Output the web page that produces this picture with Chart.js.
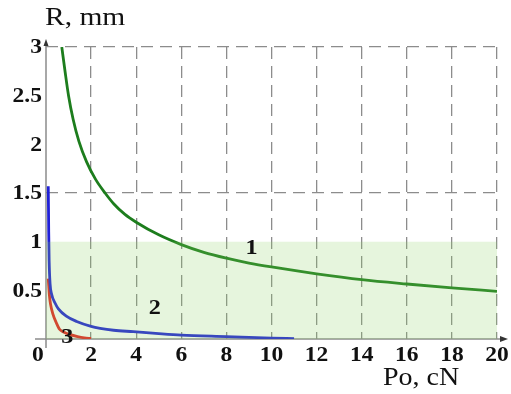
<!DOCTYPE html>
<html>
<head>
<meta charset="utf-8">
<script src="https://cdn.jsdelivr.net/npm/chart.js@4/dist/chart.umd.min.js"></script>
<style>
html,body{margin:0;padding:0;background:#fff;}
#wrap{width:511px;height:394px;position:relative;}
</style>
</head>
<body>
<div id="wrap"><canvas id="c" width="511" height="394"></canvas></div>
<script>
// Data
const curve1X = [0.7, 0.85, 1.0, 1.2, 1.46, 1.8, 2.2, 2.62, 3.0, 3.5, 4.0, 5.0, 6.0, 7.0, 8.0, 9.0, 10.0, 12.0, 14.0, 16.0, 18.0, 20.0];
const curve1Y = [3.0, 2.74, 2.5, 2.26, 2.03, 1.82, 1.64, 1.5, 1.39, 1.28, 1.2, 1.07, 0.97, 0.89, 0.83, 0.78, 0.74, 0.67, 0.61, 0.565, 0.525, 0.49];
const curve2X = [0.1, 0.11, 0.12, 0.14, 0.18, 0.25, 0.4, 0.55, 0.9, 1.36, 2.0, 2.4, 3.0, 3.87, 5.0, 6.0, 8.0, 10.0, 11.0];
const curve2Y = [1.57, 1.35, 1.1, 0.8, 0.57, 0.46, 0.37, 0.31, 0.235, 0.18, 0.13, 0.11, 0.09, 0.075, 0.055, 0.04, 0.025, 0.01, 0.004];
const curve3X = [0.1, 0.12, 0.15, 0.2, 0.3, 0.45, 0.6, 0.8, 1.0, 1.4, 1.7, 2.0];
const curve3Y = [0.62, 0.55, 0.45, 0.36, 0.26, 0.17, 0.1, 0.07, 0.05, 0.025, 0.012, 0.005];
const zoneX = [0, 20];
const zoneY = [1, 1];
const xTickValues = [0, 2, 4, 6, 8, 10, 12, 14, 16, 18, 20];
const yTickValues = [0.5, 1, 1.5, 2, 2.5, 3];
const curveLabels = ["1", "2", "3"];
const labelX = [9.12, 4.83, 0.95];
const labelY = [0.93, 0.32, 0.02];
const xTitle = "Po, cN";
const yTitle = "R, mm";

const pts = (xs, ys) => xs.map((x, i) => ({x: x, y: ys[i]}));
const SERIF = '"Liberation Serif", "Times New Roman", serif';

function stretchText(ctx, t, x, y, sx) {
  ctx.save();
  ctx.translate(x, y);
  ctx.scale(sx, 1);
  ctx.fillText(t, 0, 0);
  ctx.restore();
}

const overlay = {
  id: 'overlay',
  beforeDatasetsDraw(chart) {
    const ctx = chart.ctx;
    const xs = chart.scales.x, ys = chart.scales.y;
    const x0 = xs.getPixelForValue(0), y0 = ys.getPixelForValue(0);
    const yTop = ys.getPixelForValue(3), xRight = xs.getPixelForValue(20);
    ctx.save();
    ctx.strokeStyle = '#8c8c8c';
    ctx.lineWidth = 1.5;
    ctx.beginPath();
    ctx.moveTo(x0 - 11, y0); ctx.lineTo(xRight + 8, y0);
    ctx.moveTo(x0, y0 + 9); ctx.lineTo(x0, yTop - 5);
    ctx.stroke();
    ctx.fillStyle = '#333';
    ctx.beginPath();
    ctx.moveTo(xRight + 11, y0); ctx.lineTo(xRight + 3, y0 - 3); ctx.lineTo(xRight + 3, y0 + 3); ctx.closePath(); ctx.fill();
    ctx.beginPath();
    ctx.moveTo(x0, yTop - 8); ctx.lineTo(x0 - 2.5, yTop - 1); ctx.lineTo(x0 + 2.5, yTop - 1); ctx.closePath(); ctx.fill();
    ctx.restore();
  },
  afterDatasetsDraw(chart) {
    const ctx = chart.ctx;
    const xs = chart.scales.x, ys = chart.scales.y;
    ctx.save();
    ctx.fillStyle = '#111';
    ctx.textBaseline = 'middle';
    // tick labels
    ctx.font = 'bold 21px ' + SERIF;
    ctx.textAlign = 'center';
    xTickValues.forEach(v => {
      let px = xs.getPixelForValue(v);
      if (v === 0) px -= 8;
      stretchText(ctx, String(v), px, ys.getPixelForValue(0) + 17, 1.12);
    });
    ctx.textAlign = 'right';
    yTickValues.forEach(v => {
      stretchText(ctx, String(v), xs.getPixelForValue(0) - 4, ys.getPixelForValue(v) + 1, 1.12);
    });
    // curve labels
    ctx.textAlign = 'center';
    ctx.font = 'bold 22px ' + SERIF;
    curveLabels.forEach((t, i) => {
      stretchText(ctx, t, xs.getPixelForValue(labelX[i]), ys.getPixelForValue(labelY[i]), 1.1);
    });
    // titles
    ctx.textAlign = 'left';
    ctx.textBaseline = 'alphabetic';
    ctx.font = '25px ' + SERIF;
    stretchText(ctx, yTitle, 45, 25, 1.18);
    stretchText(ctx, xTitle, 383, 385, 1.12);
    ctx.restore();
  }
};

new Chart(document.getElementById('c'), {
  type: 'line',
  data: {
    datasets: [
      {data: pts(zoneX, zoneY), borderWidth: 0, pointRadius: 0, fill: 'origin', backgroundColor: 'rgba(140,210,100,0.22)', borderColor: 'rgba(0,0,0,0)'},
      {data: pts(curve1X, curve1Y), borderColor: '#1d7d1d', borderWidth: 2.8, pointRadius: 0, cubicInterpolationMode: 'monotone', fill: false},
      {data: pts(curve2X, curve2Y), borderColor: '#2020d8', borderWidth: 2.8, pointRadius: 0, cubicInterpolationMode: 'monotone', fill: false},
      {data: pts(curve3X, curve3Y), borderColor: '#e52222', borderWidth: 2.8, pointRadius: 0, cubicInterpolationMode: 'monotone', fill: false}
    ]
  },
  options: {
    responsive: false,
    animation: false,
    layout: {padding: {top: 47, right: 14, left: 0, bottom: 0}},
    plugins: {legend: {display: false}, tooltip: {enabled: false}},
    scales: {
      x: {
        type: 'linear', min: 0, max: 20,
        afterFit(s) { s.height = 55; },
        border: {display: false, dash: [12, 7]},
        grid: {drawTicks: false, lineWidth: 1.3, color: (c) => (c.tick && c.tick.value === 0) ? 'rgba(0,0,0,0)' : '#8c8c8c'},
        ticks: {stepSize: 2, display: false}
      },
      y: {
        type: 'linear', min: 0, max: 3,
        afterFit(s) { s.width = 46; },
        border: {display: false, dash: [12, 7]},
        grid: {drawTicks: false, lineWidth: 1.3, color: (c) => (c.tick && (c.tick.value === 1.5 || c.tick.value === 3)) ? '#8c8c8c' : 'rgba(0,0,0,0)'},
        ticks: {stepSize: 0.5, display: false}
      }
    }
  },
  plugins: [overlay]
});
</script>
</body>
</html>
